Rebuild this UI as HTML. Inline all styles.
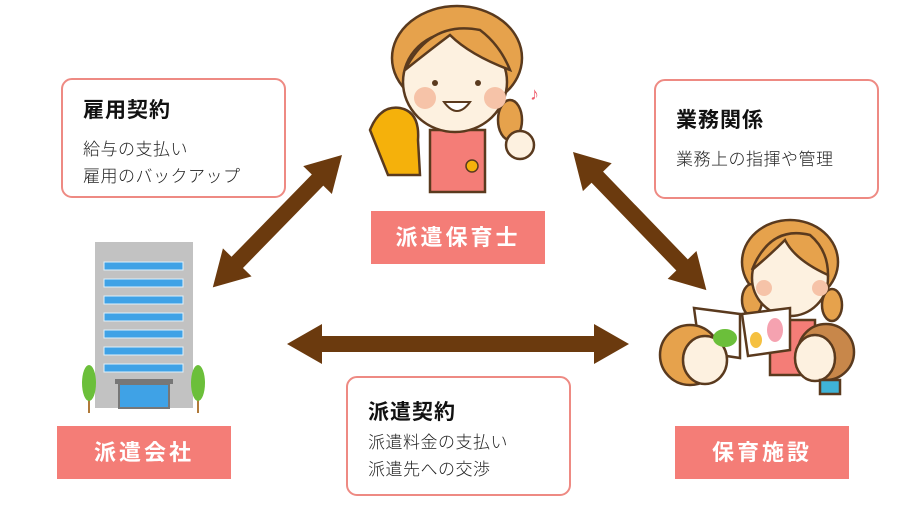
<!DOCTYPE html>
<html><head><meta charset="utf-8"><style>
body{margin:0;width:905px;height:510px;background:#fff;overflow:hidden;position:relative;font-family:"Liberation Sans","Noto Sans CJK JP",sans-serif}
.box{position:absolute;width:221px;height:116px;border:2px solid #ee8a83;border-radius:11px;box-sizing:content-box;background:#fff}
.box b{position:absolute;left:20px;font-size:21px;font-weight:700;color:#111;letter-spacing:1px}
.box p{position:absolute;left:20px;margin:0;font-size:17px;font-weight:300;color:#222;line-height:27px;letter-spacing:.5px}
.lab{position:absolute;width:174px;height:53px;background:#f47d77;color:#fff;font-size:22px;font-weight:700;text-align:center;line-height:53px;letter-spacing:3px}
svg{position:absolute;left:0;top:0}
</style></head><body>
<svg width="905" height="510">
<defs><g id="dummy"></g></defs>
<!-- arrows -->
<g fill="#6b3a0e">
<polygon points="287,344 322,324 322,336 594,336 594,324 629,344 594,364 594,352 322,352 322,364"/>
<g transform="translate(342,155) rotate(134.3)"><polygon points="0,0 35,-20 35,-8 150,-8 150,-20 185,0 150,20 150,8 35,8 35,20"/></g>
<g transform="translate(573,152) rotate(46)"><polygon points="0,0 35,-20 35,-8 157,-8 157,-20 192,0 157,20 157,8 35,8 35,20"/></g>
</g>
<!-- building -->
<rect x="95" y="242" width="98" height="166" fill="#c2c2c2"/>
<g fill="#3fa2e6" stroke="#dff0fb" stroke-width="1">
<rect x="104" y="262" width="79" height="8"/><rect x="104" y="279" width="79" height="8"/><rect x="104" y="296" width="79" height="8"/><rect x="104" y="313" width="79" height="8"/><rect x="104" y="330" width="79" height="8"/><rect x="104" y="347" width="79" height="8"/><rect x="104" y="364" width="79" height="8"/>
</g>
<rect x="115" y="379" width="58" height="5" fill="#777"/>
<rect x="119" y="384" width="50" height="24" fill="#3fa2e6" stroke="#777" stroke-width="2"/>
<g stroke="#b07a3a" stroke-width="2"><line x1="89" y1="390" x2="89" y2="413"/><line x1="198" y1="390" x2="198" y2="413"/></g>
<g fill="#6bbf3a"><ellipse cx="89" cy="383" rx="7" ry="18"/><ellipse cx="198" cy="383" rx="7" ry="18"/></g>
<!-- teacher top -->
<g stroke="#5a3a1e" stroke-width="2.5">
<ellipse cx="457" cy="58" rx="65" ry="52" fill="#e6a24c"/>
<ellipse cx="510" cy="120" rx="12" ry="20" fill="#e6a24c"/>
<rect x="430" y="130" width="55" height="62" fill="#f47d77"/>
<ellipse cx="455" cy="82" rx="52" ry="50" fill="#fdf1e0"/>
<path d="M405 70 Q430 20 480 30 Q500 45 510 70 Q470 55 450 35 Q430 50 405 70Z" fill="#e6a24c"/>
<path d="M370 130 Q380 105 400 108 Q420 112 418 140 L420 175 L388 175 Z" fill="#f5b10b"/>
<ellipse cx="520" cy="145" rx="14" ry="14" fill="#fdf1e0"/>
</g>
<circle cx="425" cy="98" r="11" fill="#f6c3a8"/><circle cx="495" cy="98" r="11" fill="#f6c3a8"/>
<circle cx="435" cy="83" r="3" fill="#5a3a1e"/><circle cx="478" cy="83" r="3" fill="#5a3a1e"/>
<path d="M444 102 Q457 120 470 102Z" fill="#fff" stroke="#5a3a1e" stroke-width="2"/>
<circle cx="472" cy="166" r="6" fill="#f5b10b" stroke="#5a3a1e" stroke-width="1.5"/>
<text x="530" y="100" fill="#ee5a6a" font-size="18">♪</text>
<!-- teacher right -->
<g stroke="#5a3a1e" stroke-width="2.5">
<ellipse cx="790" cy="262" rx="48" ry="42" fill="#e6a24c"/>
<ellipse cx="752" cy="300" rx="10" ry="16" fill="#e6a24c"/><ellipse cx="832" cy="305" rx="10" ry="16" fill="#e6a24c"/>
<rect x="770" y="320" width="45" height="55" fill="#f47d77"/>
<ellipse cx="790" cy="278" rx="38" ry="38" fill="#fdf1e0"/>
<path d="M752 270 Q770 225 810 235 Q828 250 828 275 Q795 260 785 240 Q770 255 752 270Z" fill="#e6a24c"/>
<polygon points="694,308 740,314 740,358 700,352" fill="#fff"/>
<polygon points="742,314 790,308 790,350 748,356" fill="#fff"/>
<circle cx="690" cy="355" r="30" fill="#e6a24c"/>
<ellipse cx="705" cy="360" rx="22" ry="24" fill="#fdf1e0"/>
<circle cx="826" cy="352" r="28" fill="#c8874a"/>
<ellipse cx="815" cy="358" rx="20" ry="23" fill="#fdf1e0"/>
<rect x="820" y="380" width="20" height="14" fill="#3fb3d6"/>
</g>
<ellipse cx="725" cy="338" rx="12" ry="9" fill="#6bbf3a"/>
<ellipse cx="775" cy="330" rx="8" ry="12" fill="#f5a2b0"/>
<ellipse cx="756" cy="340" rx="6" ry="8" fill="#f5c040"/>
<circle cx="764" cy="288" r="8" fill="#f6c3a8"/><circle cx="820" cy="288" r="8" fill="#f6c3a8"/>
</svg>
<div class="box" style="left:61px;top:78px"><b style="top:93px;top:14px">雇用契約</b><p style="top:56px">給与の支払い<br>雇用のバックアップ</p></div>
<div class="box" style="left:654px;top:79px"><b style="top:23px">業務関係</b><p style="top:65px">業務上の指揮や管理</p></div>
<div class="box" style="left:346px;top:376px"><b style="top:18px">派遣契約</b><p style="top:51px">派遣料金の支払い<br>派遣先への交渉</p></div>
<div class="lab" style="left:57px;top:426px">派遣会社</div>
<div class="lab" style="left:371px;top:211px">派遣保育士</div>
<div class="lab" style="left:675px;top:426px">保育施設</div>
</body></html>
